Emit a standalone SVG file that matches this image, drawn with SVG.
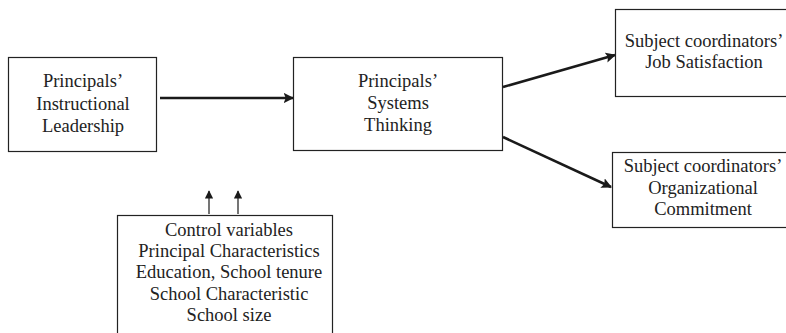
<svg xmlns="http://www.w3.org/2000/svg" width="786" height="333" viewBox="0 0 786 333">
<defs>
<style>
.box{fill:#fff;stroke:#222;stroke-width:1.2}
.t{font-family:"Liberation Serif","Times New Roman",serif;font-size:18.5px;fill:#222;text-anchor:middle}
.thick{stroke:#1a1a1a;stroke-width:2.6;fill:none}
.thin{stroke:#1a1a1a;stroke-width:1.2;fill:none}
</style>
<marker id="ah" viewBox="0 0 10 10" refX="9" refY="5" markerWidth="4" markerHeight="4" markerUnits="strokeWidth" orient="auto">
<path d="M0,0 L10,5 L0,10 L2,5 Z" fill="#1a1a1a"/>
</marker>
<marker id="ahs" viewBox="0 0 10 10" refX="9" refY="5" markerWidth="7" markerHeight="7" markerUnits="strokeWidth" orient="auto">
<path d="M0,0 L10,5 L0,10 Z" fill="#1a1a1a"/>
</marker>
</defs>
<rect width="786" height="333" fill="#fff"/>
<g id="connectors">
<line class="thick" x1="160" y1="98" x2="293" y2="98" marker-end="url(#ah)"/>
<line class="thick" x1="503" y1="87" x2="615" y2="55" marker-end="url(#ah)"/>
<line class="thick" x1="503" y1="137" x2="611" y2="187" marker-end="url(#ah)"/>
<line class="thin" x1="209" y1="214" x2="209" y2="191" marker-end="url(#ahs)"/>
<line class="thin" x1="238" y1="214" x2="238" y2="191" marker-end="url(#ahs)"/>
</g>
<g id="instructional-leadership">
<rect class="box" x="8.5" y="57.5" width="148" height="94"/>
<text class="t" x="83" y="87">Principals’</text>
<text class="t" x="83" y="110">Instructional</text>
<text class="t" x="83" y="132">Leadership</text>
</g>
<g id="systems-thinking">
<rect class="box" x="293.5" y="57.5" width="209" height="93"/>
<text class="t" x="398" y="87">Principals’</text>
<text class="t" x="398" y="109">Systems</text>
<text class="t" x="398" y="131">Thinking</text>
</g>
<g id="job-satisfaction">
<rect class="box" x="615.5" y="9.5" width="180" height="87"/>
<text class="t" x="704" y="47">Subject coordinators’</text>
<text class="t" x="704" y="68">Job Satisfaction</text>
</g>
<g id="organizational-commitment">
<rect class="box" x="612.5" y="152.5" width="183" height="75"/>
<text class="t" x="703" y="172">Subject coordinators’</text>
<text class="t" x="703" y="194">Organizational</text>
<text class="t" x="703" y="215">Commitment</text>
</g>
<g id="control-variables">
<rect class="box" x="117.5" y="215.5" width="215" height="130"/>
<text class="t" x="229" y="236">Control variables</text>
<text class="t" x="229" y="257">Principal Characteristics</text>
<text class="t" x="229" y="278">Education, School tenure</text>
<text class="t" x="229" y="300">School Characteristic</text>
<text class="t" x="229" y="321">School size</text>
</g>
</svg>
